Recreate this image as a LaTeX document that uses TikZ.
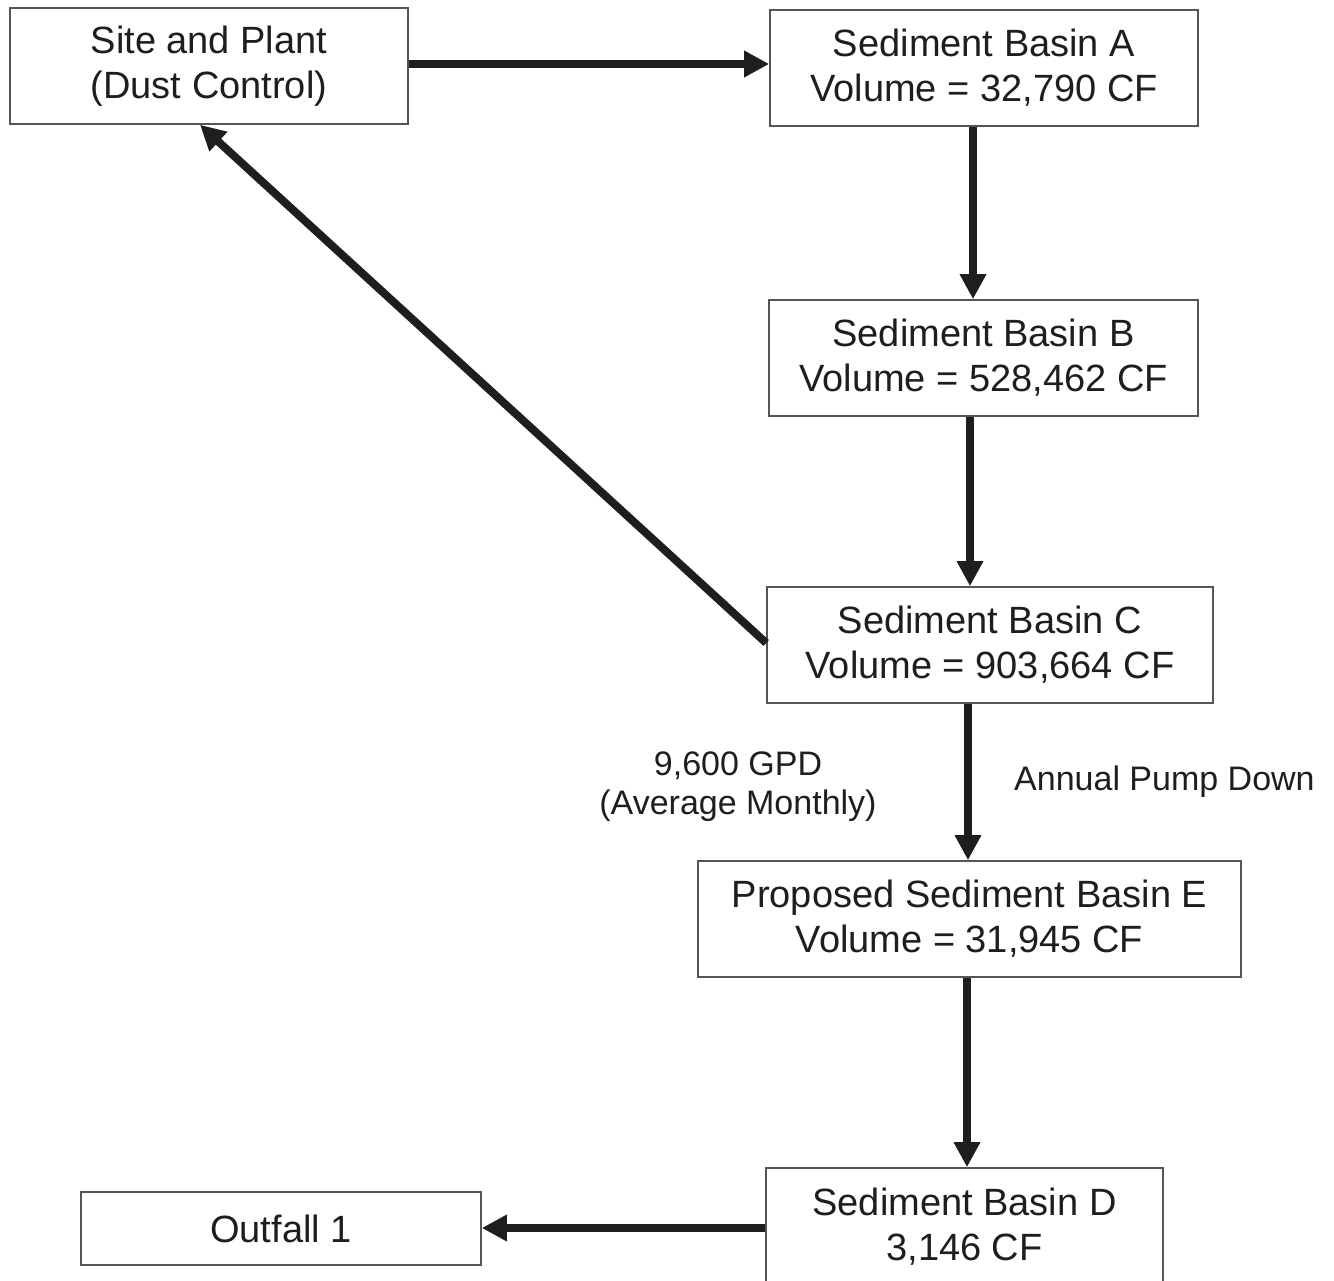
\documentclass[tikz,border=0pt]{standalone}
\usepackage{fontspec}
\setmainfont{Liberation Sans}
\usetikzlibrary{arrows.meta}
\definecolor{ink}{HTML}{1E1E1E}
\definecolor{boxline}{HTML}{555555}
\tikzset{
  box/.style={draw=boxline, line width=1.6pt, fill=white, inner sep=0pt, align=center,
    font=\fontsize{38}{45}\selectfont, text=ink},
  flow/.style={draw=ink, line width=8pt, -{Triangle[length=25pt,width=25pt]}},
  lbl/.style={inner sep=0pt, align=center, font=\fontsize{34}{39}\selectfont, text=ink}
}
\begin{document}
\begin{tikzpicture}[x=1pt,y=-1pt]
\useasboundingbox (0,0) rectangle (1334,1281);
\node[box, minimum width=398pt, minimum height=116pt] (site) at (209,66) {Site and Plant\\(Dust Control)};
\node[box, minimum width=428pt, minimum height=116pt] (A) at (984,68) {Sediment Basin A\\Volume = 32,790 CF};
\node[box, minimum width=429pt, minimum height=116pt] (B) at (983.5,358) {Sediment Basin B\\Volume = 528,462 CF};
\node[box, minimum width=446pt, minimum height=116pt] (C) at (990,645) {Sediment Basin C\\Volume = 903,664 CF};
\node[box, minimum width=543pt, minimum height=116pt] (E) at (969.5,919) {Proposed Sediment Basin E\\Volume = 31,945 CF};
\node[box, minimum width=397pt, minimum height=118pt] (D) at (964.5,1227) {Sediment Basin D\\3,146 CF};
\node[box, minimum width=400pt, minimum height=73pt] (out) at (281,1228.5) {Outfall 1};
\node[lbl] (gpd) at (738,787) {9,600 GPD\\(Average Monthly)};
\node[lbl, anchor=base west] (apd) at (1014,790) {Annual Pump Down};
\draw[flow] (site.east |- 0,64) -- (A.west |- 0,64);
\draw[flow] (A.south -| 973,0) -- (B.north -| 973,0);
\draw[flow] (B.south -| 970,0) -- (C.north -| 970,0);
\draw[flow] (C.south -| 968,0) -- (E.north -| 968,0);
\draw[flow] (E.south -| 967,0) -- (D.north -| 967,0);
\draw[flow] (D.west |- 0,1228) -- (out.east |- 0,1228);
\draw[flow] (C.west |- 0,643) -- (site.south -| 200,0);
\end{tikzpicture}
\end{document}
